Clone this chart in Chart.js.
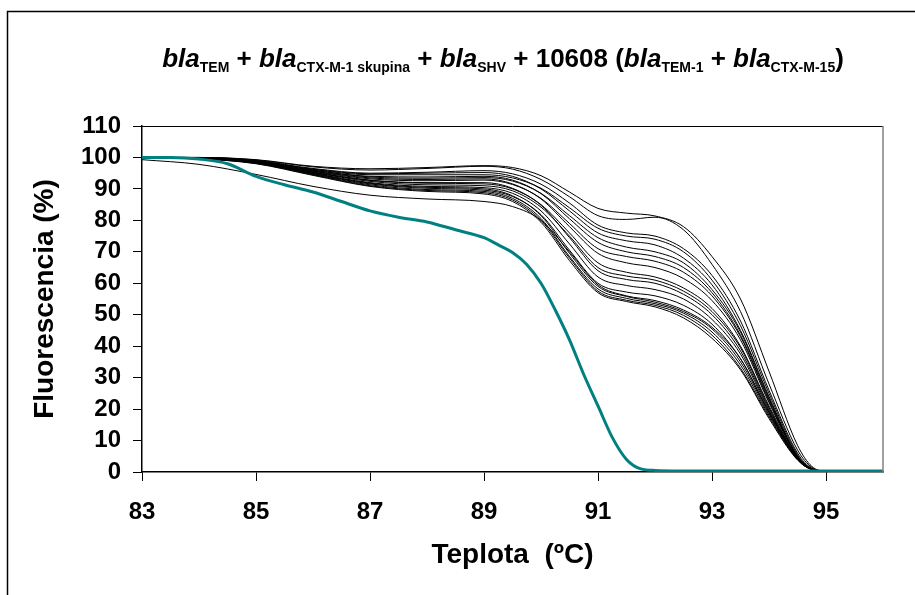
<!DOCTYPE html>
<html>
<head>
<meta charset="utf-8">
<script src="https://cdn.jsdelivr.net/npm/chart.js@4.4.1/dist/chart.umd.min.js"></script>
<style>
  html, body { margin: 0; padding: 0; background: #fff; }
  #wrap { width: 915px; height: 595px; }
</style>
</head>
<body>
<div id="wrap"><canvas id="melt" width="915" height="595"></canvas></div>
<script>
const temps = [83, 84, 85, 86, 87, 88, 89, 89.5, 90, 90.5, 91, 91.5, 92, 92.5, 93, 93.5, 94, 94.5, 94.75, 95, 96];

// black melting curves, fluorescence (%)
const c1  = [100, 100, 99.3, 97.2, 96.4, 96.8, 97.4, 96.8, 94.2, 89.0, 83.8, 82.3, 81.4, 78.0, 68.5, 55.0, 32.0, 8.5, 1.8, 0.3, 0.3];
const c2  = [100, 100, 99.2, 97.0, 96.0, 96.5, 97.2, 96.3, 93.0, 87.5, 81.5, 80.3, 81.0, 77.0, 66.0, 51.0, 28.0, 7.0, 1.5, 0.3, 0.3];
const c3  = [100, 100, 99.0, 96.5, 95.0, 95.3, 95.8, 94.8, 91.5, 85.5, 78.5, 76.0, 75.0, 71.0, 62.5, 48.0, 26.0, 6.0, 1.2, 0.3, 0.3];
const c4  = [100, 99.9, 99.0, 96.2, 94.5, 94.5, 94.5, 93.5, 90.2, 84.0, 77.5, 75.0, 74.0, 70.0, 61.0, 46.5, 25.0, 5.5, 1.0, 0.3, 0.3];
const c5  = [100, 100, 98.9, 96.3, 94.8, 95.0, 95.2, 94.0, 90.0, 83.0, 76.0, 73.5, 72.2, 68.0, 59.5, 45.0, 24.0, 5.0, 1.0, 0.3, 0.3];
const c6  = [100, 99.9, 98.8, 95.9, 93.8, 93.4, 93.6, 92.5, 88.6, 81.5, 74.5, 71.5, 70.0, 66.5, 58.0, 44.5, 23.5, 5.0, 1.0, 0.3, 0.3];
const c7  = [100, 99.9, 98.8, 96.0, 94.0, 93.8, 94.0, 92.8, 88.5, 80.5, 73.0, 70.0, 68.5, 65.0, 57.0, 43.5, 23.0, 5.0, 1.0, 0.3, 0.3];
const c8  = [100, 99.9, 98.7, 95.6, 93.2, 92.6, 92.8, 91.4, 87.0, 79.0, 71.0, 68.5, 67.0, 63.5, 56.0, 43.0, 22.5, 4.8, 1.0, 0.3, 0.3];
const c9  = [100, 99.9, 98.7, 95.7, 93.5, 93.0, 93.2, 91.6, 86.8, 78.0, 69.5, 66.5, 65.0, 61.5, 54.5, 42.0, 22.0, 4.8, 1.0, 0.3, 0.3];
const c10 = [100, 99.8, 98.6, 95.3, 92.7, 91.8, 91.6, 90.0, 85.0, 76.0, 66.5, 63.5, 62.0, 58.5, 52.0, 40.0, 21.0, 4.5, 0.9, 0.3, 0.3];
const c11 = [100, 99.8, 98.5, 95.2, 92.4, 91.3, 91.0, 89.4, 84.2, 75.0, 65.0, 62.3, 61.0, 57.5, 51.0, 39.5, 20.5, 4.5, 0.9, 0.3, 0.3];
const c12 = [100, 99.8, 98.6, 95.4, 92.8, 92.0, 92.0, 90.2, 84.8, 74.5, 64.0, 61.2, 60.0, 56.5, 50.0, 38.5, 20.0, 4.3, 0.9, 0.3, 0.3];
const c13 = [100, 99.8, 98.4, 95.0, 92.0, 90.8, 90.4, 88.6, 83.0, 72.5, 62.0, 59.3, 58.0, 55.0, 48.5, 37.5, 19.5, 4.3, 0.9, 0.3, 0.3];
const c14 = [100, 99.7, 98.3, 94.8, 91.6, 90.2, 89.6, 87.6, 81.8, 70.5, 60.0, 57.2, 56.0, 53.0, 47.0, 36.0, 19.0, 4.2, 0.8, 0.3, 0.3];
const c15 = [100, 99.7, 98.3, 94.9, 91.8, 90.5, 90.0, 87.8, 81.5, 69.5, 59.0, 55.8, 54.0, 51.0, 45.5, 35.0, 18.5, 4.0, 0.8, 0.3, 0.3];
const c16 = [100, 99.7, 98.2, 94.6, 91.3, 89.8, 89.2, 87.0, 80.6, 68.5, 58.2, 55.2, 53.5, 50.5, 44.5, 34.0, 18.0, 4.0, 0.8, 0.3, 0.3];
const c17 = [100, 99.6, 98.1, 94.5, 91.0, 89.5, 88.8, 86.5, 80.0, 68.0, 57.5, 54.6, 53.0, 49.8, 43.5, 33.0, 17.5, 4.0, 0.8, 0.3, 0.3];
const c18 = [100, 99.6, 98.0, 94.3, 90.8, 89.2, 88.4, 86.0, 79.4, 67.2, 57.0, 54.2, 52.5, 49.0, 42.5, 32.5, 17.0, 3.8, 0.8, 0.3, 0.3];
const c19 = [99.3, 97.8, 94.6, 90.8, 88.0, 86.8, 86.0, 84.4, 80.0, 70.0, 59.5, 56.0, 54.5, 51.5, 46.0, 36.0, 19.0, 4.5, 0.9, 0.3, 0.3];
const blackCurves = [c1, c2, c3, c4, c5, c6, c7, c8, c9, c10, c11, c12, c13, c14, c15, c16, c17, c18, c19];

// teal curve (10608) has its own, finer temperature grid
const tealTemps = [83, 83.5, 84, 84.5, 85, 85.5, 86, 86.5, 87, 87.5, 88, 88.5, 89, 89.25, 89.5, 89.75, 90, 90.25, 90.5, 90.75, 91, 91.25, 91.5, 91.75, 92, 93, 94, 95, 96];
const tealValues = [100, 100, 99.5, 98, 94, 91.3, 89, 86, 83, 81, 79.5, 77, 74.5, 72.2, 69.8, 66, 60, 51.5, 42, 31, 21, 11, 4, 1, 0.5, 0.3, 0.3, 0.3, 0.3];

const xTicks = [83, 85, 87, 89, 91, 93, 95];
const yTicks = [0, 10, 20, 30, 40, 50, 60, 70, 80, 90, 100, 110];

const titleParts = [
  ['bla', 'it'], ['TEM', 'sub'], [' + ', 'main'],
  ['bla', 'it'], ['CTX-M-1 skupina', 'sub'], [' + ', 'main'],
  ['bla', 'it'], ['SHV', 'sub'], [' + 10608 (', 'main'],
  ['bla', 'it'], ['TEM-1', 'sub'], [' + ', 'main'],
  ['bla', 'it'], ['CTX-M-15', 'sub'], [')', 'main']
];

const FONT = '"Liberation Sans", Arial, sans-serif';

function toPoints(xs, ys) {
  return xs.map((x, i) => ({ x: x, y: ys[i] }));
}

const datasets = [{
  data: toPoints(tealTemps, tealValues),
  borderColor: '#008080',
  borderWidth: 3,
  pointRadius: 0,
  cubicInterpolationMode: 'monotone'
}];
blackCurves.forEach(c => {
  datasets.push({
    data: toPoints(temps, c),
    borderColor: '#000',
    borderWidth: 1,
    pointRadius: 0,
    cubicInterpolationMode: 'monotone'
  });
});

// title with italic "bla" and subscripts, plus the frames
const decorPlugin = {
  id: 'decor',
  afterDraw(chart) {
    const ctx = chart.ctx;
    const area = chart.chartArea;
    ctx.save();

    // outer frame (only left and top visible in the picture)
    ctx.strokeStyle = '#000';
    ctx.lineWidth = 1.5;
    ctx.beginPath();
    ctx.moveTo(7.5, 600);
    ctx.lineTo(7.5, 11.5);
    ctx.lineTo(920, 11.5);
    ctx.stroke();

    // plot area top / right border
    ctx.lineWidth = 1;
    ctx.strokeStyle = '#000';
    ctx.beginPath();
    ctx.moveTo(area.left, Math.round(area.top) + 0.5);
    ctx.lineTo(area.right, Math.round(area.top) + 0.5);
    ctx.stroke();
    ctx.strokeStyle = '#808080';
    ctx.lineWidth = 1.5;
    ctx.beginPath();
    ctx.moveTo(area.right, area.top);
    ctx.lineTo(area.right, area.bottom);
    ctx.stroke();

    // title
    const fonts = {
      it: 'italic bold 26px ' + FONT,
      main: 'bold 26px ' + FONT,
      sub: 'bold 14px ' + FONT
    };
    let total = 0;
    titleParts.forEach(p => {
      ctx.font = fonts[p[1]];
      total += ctx.measureText(p[0]).width;
    });
    let x = 503 - total / 2;
    const base = 67;
    ctx.fillStyle = '#000';
    ctx.textBaseline = 'alphabetic';
    ctx.textAlign = 'left';
    titleParts.forEach(p => {
      ctx.font = fonts[p[1]];
      ctx.fillText(p[0], x, p[1] === 'sub' ? base + 5 : base);
      x += ctx.measureText(p[0]).width;
    });
    ctx.restore();
  }
};

new Chart(document.getElementById('melt'), {
  type: 'line',
  data: { datasets: datasets },
  options: {
    responsive: false,
    animation: false,
    events: [],
    layout: { padding: { left: 0, right: 32, top: 126, bottom: 0 } },
    plugins: {
      legend: { display: false },
      tooltip: { enabled: false }
    },
    scales: {
      x: {
        type: 'linear',
        min: 83,
        max: 96,
        afterBuildTicks: s => { s.ticks = xTicks.map(v => ({ value: v })); },
        afterFit: s => { s.height = 123; },
        border: { color: '#000', width: 1.5 },
        grid: { drawOnChartArea: false, drawTicks: true, tickLength: 9, color: '#000' },
        ticks: {
          color: '#000',
          padding: 17,
          autoSkip: false,
          maxRotation: 0,
          font: { family: FONT, size: 24, weight: 'bold' }
        },
        title: {
          display: true,
          text: 'Teplota  (ºC)',
          color: '#000',
          padding: { top: 0, bottom: 23 },
          font: { family: FONT, size: 28, weight: 'bold' }
        }
      },
      y: {
        min: 0,
        max: 110,
        afterBuildTicks: s => { s.ticks = yTicks.map(v => ({ value: v })); },
        afterFit: s => { s.width = 142; },
        border: { color: '#000', width: 1.5 },
        grid: { drawOnChartArea: false, drawTicks: true, tickLength: 9, color: '#000' },
        ticks: {
          color: '#000',
          padding: 12,
          autoSkip: false,
          font: { family: FONT, size: 24, weight: 'bold' }
        },
        title: {
          display: true,
          text: 'Fluorescencia (%)',
          color: '#000',
          padding: { top: 28, bottom: 0 },
          font: { family: FONT, size: 28, weight: 'bold' }
        }
      }
    }
  },
  plugins: [decorPlugin]
});
</script>
</body>
</html>
